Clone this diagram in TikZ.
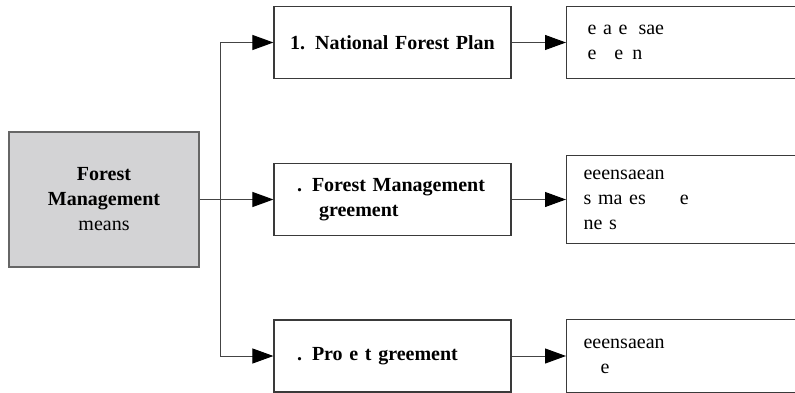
\documentclass[tikz,border=0pt]{standalone}
\usepackage{fontspec}
\setmainfont{Liberation Serif}
\usetikzlibrary{arrows.meta,positioning}
\definecolor{boxgray}{HTML}{D3D3D5}
\definecolor{edgegray}{HTML}{3A3A3A}
\definecolor{linegray}{HTML}{444444}
\begin{document}
\begin{tikzpicture}[x=1pt,y=-1pt,
  txt/.style={font=\fontsize{20}{25}\selectfont},
  means/.style={rectangle,draw=gray!80!black,fill=boxgray,line width=1.2pt,minimum width=190pt,minimum height=135pt,align=center,txt},
  stage/.style={rectangle,draw=edgegray,line width=1.2pt,text width=191pt,inner xsep=23pt,inner ysep=0pt,minimum height=72pt,font=\bfseries\fontsize{20}{25}\selectfont},
  note/.style={rectangle,draw=edgegray,line width=1.2pt,text width=240pt,inner xsep=17pt,inner ysep=0pt,align=left,anchor=west,txt},
  link/.style={draw=linegray,line width=1pt},
  arr/.style={link,-{Triangle[length=21pt,width=15pt,color=black]}}]
\useasboundingbox (0,0) rectangle (795,393);
\clip (0,0) rectangle (795,393);
% left box
\node[means] (fm) at (104,199.5) {\textbf{Forest}\\\textbf{Management}\\means};
% middle column
\node[stage,text width=231pt,inner xsep=3pt,align=center] (nfp) at (392.5,42.5) {1. National Forest Plan};
\node[stage,align=left] (fma) at (392.5,199.5) {. Forest Management\\\hspace*{22pt}greement};
\node[stage,align=left] (pa) at (392.5,356) {. Pro e t greement};
% right column
\node[note,minimum height=72pt] (nfpnote) at (566,42.5) {\hspace*{4pt}e a e\hspace{11pt}sae\\\hspace*{4pt}e\hspace{18pt}e\hspace{9pt}n};
\node[note,minimum height=88pt] (fmanote) at (566,199.5) {eeensaean\\s ma es\hspace{34pt}e\\ne s};
\node[note,minimum height=73pt] (panote) at (566,356) {eeensaean\\\hspace*{17pt}e};
% connectors
\coordinate (split) at ([xshift=21pt]fm.east);
\draw[arr] (fm.east) -- (fma.west);
\draw[arr] (split) |- (nfp.west);
\draw[arr] (split) |- (pa.west);
\draw[arr] (nfp.east) -- (nfpnote.west);
\draw[arr] (fma.east) -- (fmanote.west);
\draw[arr] (pa.east) -- (panote.west);
\end{tikzpicture}
\end{document}
